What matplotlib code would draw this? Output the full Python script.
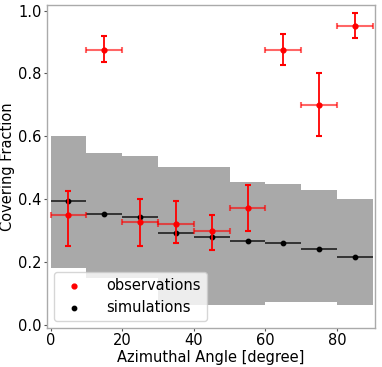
import numpy as np
import matplotlib
matplotlib.use("Agg")
import matplotlib.pyplot as plt

# Bin edges / centers (degrees)
bin_edges = [0, 10, 20, 30, 40, 50, 60, 70, 80, 90]
bin_centers = [5, 15, 25, 35, 45, 55, 65, 75, 85]

# Simulation spread (gray band)
sim_upper = [0.602, 0.547, 0.536, 0.501, 0.501, 0.456, 0.450, 0.429, 0.400]
sim_lower = [0.180, 0.150, 0.150, 0.065, 0.064, 0.064, 0.074, 0.074, 0.064]

# Simulation median
sim_values = [0.394, 0.354, 0.343, 0.293, 0.279, 0.266, 0.261, 0.242, 0.215]

# Observations
obs_values = [0.350, 0.875, 0.326, 0.321, 0.300, 0.371, 0.875, 0.700, 0.952]
obs_err_low = [0.100, 0.040, 0.076, 0.060, 0.060, 0.071, 0.048, 0.100, 0.040]
obs_err_high = [0.076, 0.043, 0.075, 0.074, 0.051, 0.075, 0.050, 0.100, 0.040]
half_width = [5] * 9

plt.rcParams['font.family'] = ['DejaVu Sans']
fig = plt.figure(figsize=(3.82, 3.67), dpi=100)
ax = fig.add_axes([0.122, 0.1054, 0.860, 0.880])

up = list(sim_upper) + [sim_upper[-1]]
lo = list(sim_lower) + [sim_lower[-1]]
ax.fill_between(bin_edges, lo, up, step='post', color='darkgray', linewidth=0, zorder=1)

ax.errorbar(bin_centers, sim_values, xerr=half_width, fmt='none', ecolor='black',
            elinewidth=1.3, capsize=0, zorder=2, alpha=0.75)
ax.scatter(bin_centers, sim_values, s=10, color='black', zorder=3, label='simulations')

ax.errorbar(bin_centers, obs_values, xerr=half_width, fmt='none', ecolor='red',
            elinewidth=1.5, capsize=2.5, capthick=1.5, zorder=4, alpha=0.6)
ax.errorbar(bin_centers, obs_values, yerr=[obs_err_low, obs_err_high], fmt='none',
            ecolor='red', elinewidth=1.3, capsize=2.5, capthick=1.5, zorder=5)
ax.scatter(bin_centers, obs_values, s=12, color='red', zorder=6, label='observations')

ax.set_xlim(-1.1, 90.6)
ax.set_ylim(-0.0105, 1.0165)
ax.set_xticks([0, 20, 40, 60, 80])
ax.set_yticks([0.0, 0.2, 0.4, 0.6, 0.8, 1.0])
ax.tick_params(labelsize=10.5, length=2, width=0.8, pad=1.5, color='#555555')
for s in ax.spines.values():
    s.set_color('#aaaaaa')
    s.set_linewidth(1.0)

ax.set_xlabel('Azimuthal Angle [degree]', fontsize=10.5, labelpad=1)
ax.set_ylabel('Covering Fraction', fontsize=10.5, labelpad=2)

handles, labels = ax.get_legend_handles_labels()
order = [labels.index('observations'), labels.index('simulations')]
ax.legend([handles[i] for i in order], [labels[i] for i in order],
          loc='lower left', fontsize=10.5, handletextpad=1.2)

fig.savefig('out.png', dpi=100)
